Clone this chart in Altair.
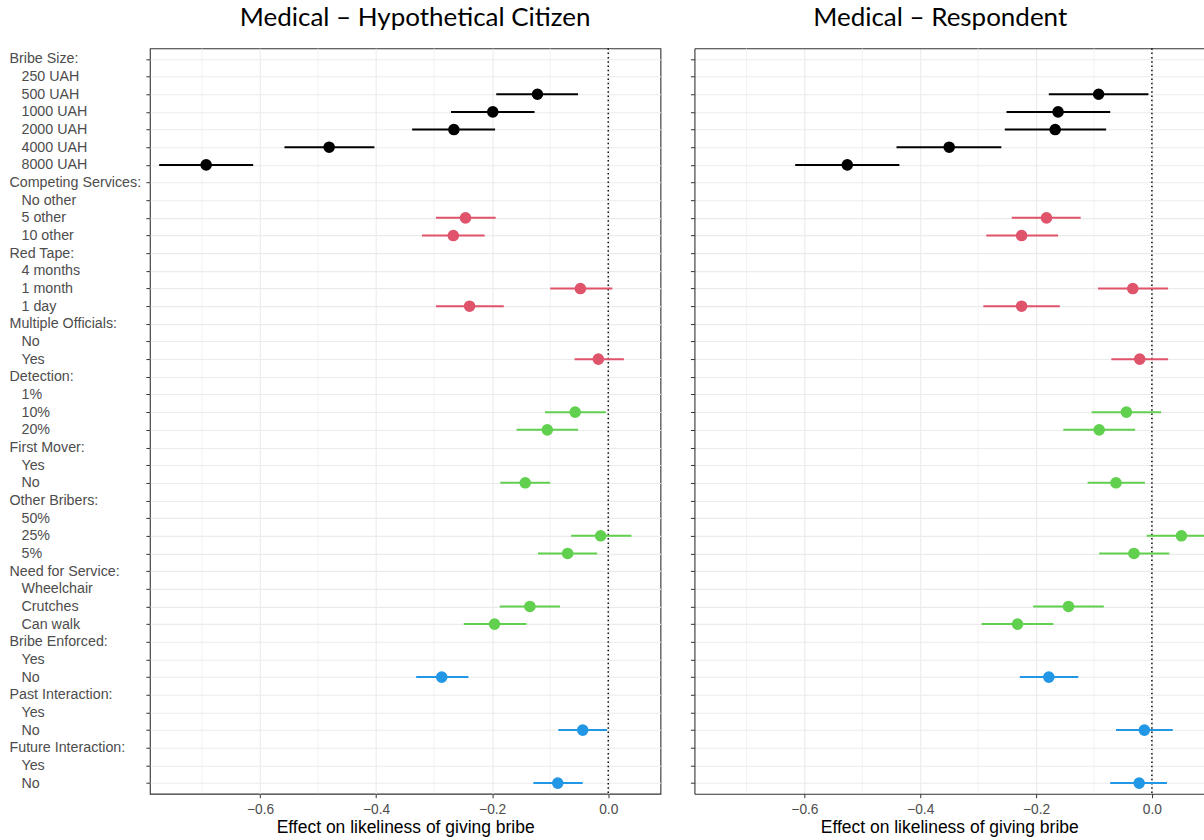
import json
import altair as alt
import pandas as pd

# ---------------- data ----------------
GROUPS = [
    "Bribe Size:", "Competing Services:", "Red Tape:", "Multiple Officials:",
    "Detection:", "First Mover:", "Other Bribers:", "Need for Service:",
    "Bribe Enforced:", "Past Interaction:", "Future Interaction:",
]
LEVELS = [
    ["250 UAH", "500 UAH", "1000 UAH", "2000 UAH", "4000 UAH", "8000 UAH"],
    ["No other", "5 other", "10 other"],
    ["4 months", "1 month", "1 day"],
    ["No", "Yes"],
    ["1%", "10%", "20%"],
    ["Yes", "No"],
    ["50%", "25%", "5%"],
    ["Wheelchair", "Crutches", "Can walk"],
    ["Yes", "No"],
    ["Yes", "No"],
    ["Yes", "No"],
]
GROUP_COLOR = ["size", "red", "red", "red", "green", "green", "green", "green",
               "blue", "blue", "blue"]
COLOR_DOMAIN = ["size", "red", "green", "blue"]
COLOR_RANGE = ["#000000", "#DF536B", "#61D04F", "#2297E6"]

# Hypothetical citizen (None = baseline level)
CIT_EST = [None, -0.122, -0.199, -0.266, -0.481, -0.693,
           None, -0.246, -0.267,
           None, -0.048, -0.239,
           None, -0.017,
           None, -0.057, -0.105,
           None, -0.143,
           None, -0.013, -0.070,
           None, -0.135, -0.196,
           None, -0.287,
           None, -0.044,
           None, -0.087]
CIT_LO = [None, -0.193, -0.271, -0.338, -0.558, -0.774,
          None, -0.297, -0.321,
          None, -0.100, -0.297,
          None, -0.058,
          None, -0.109, -0.158,
          None, -0.186,
          None, -0.064, -0.121,
          None, -0.187, -0.249,
          None, -0.331,
          None, -0.086,
          None, -0.129]
CIT_HI = [None, -0.052, -0.127, -0.195, -0.403, -0.612,
          None, -0.194, -0.213,
          None, 0.007, -0.180,
          None, 0.027,
          None, -0.004, -0.052,
          None, -0.100,
          None, 0.040, -0.019,
          None, -0.083, -0.141,
          None, -0.241,
          None, -0.002,
          None, -0.044]

# Respondent
RES_EST = [None, -0.092, -0.162, -0.167, -0.350, -0.526,
           None, -0.182, -0.225,
           None, -0.033, -0.225,
           None, -0.021,
           None, -0.044, -0.091,
           None, -0.062,
           None, 0.051, -0.031,
           None, -0.144, -0.232,
           None, -0.178,
           None, -0.013,
           None, -0.022]
RES_LO = [None, -0.178, -0.251, -0.254, -0.441, -0.616,
          None, -0.242, -0.286,
          None, -0.093, -0.291,
          None, -0.070,
          None, -0.104, -0.153,
          None, -0.111,
          None, -0.009, -0.091,
          None, -0.205, -0.294,
          None, -0.228,
          None, -0.062,
          None, -0.072]
RES_HI = [None, -0.006, -0.072, -0.079, -0.260, -0.436,
          None, -0.123, -0.162,
          None, 0.028, -0.159,
          None, 0.028,
          None, 0.016, -0.029,
          None, -0.012,
          None, 0.111, 0.030,
          None, -0.083, -0.170,
          None, -0.127,
          None, 0.036,
          None, 0.026]

X_DOMAIN = [-0.79, 0.09]
X_TICKS = [-0.6, -0.4, -0.2, 0.0]
X_MINOR = [-0.7, -0.5, -0.3, -0.1]

# ---------------- build tables ----------------
labels = []
header_rows = []
level_rows = []   # (row index, color category)
for g, lv, col in zip(GROUPS, LEVELS, GROUP_COLOR):
    header_rows.append(len(labels))
    labels.append(g)
    for name in lv:
        level_rows.append((len(labels), col))
        labels.append(name)
N_ROWS = len(labels)


def panel_df(est, lo, hi):
    recs = []
    for (r, col), e, l, h in zip(level_rows, est, lo, hi):
        if e is None:
            continue
        recs.append({"row": r, "cat": col, "est": e, "lo": l, "hi": h})
    return pd.DataFrame(recs)


label_expr = json.dumps(labels, ensure_ascii=False) + "[datum.value]"
header_test = "indexof(" + json.dumps(header_rows) + ", datum.value) >= 0"

H = 746
FONT = "Liberation Sans"
BORDER = "#333333"


def make_panel(df, title, is_left, title_dx, width):
    xscale = alt.Scale(domain=X_DOMAIN, nice=False, zero=False)
    yscale = alt.Scale(type="point", domain=list(range(N_ROWS)), padding=0.6)
    yaxis = alt.Axis(
        title=None, grid=True, gridColor="#EBEBEB", gridWidth=1.1,
        domain=not is_left, domainColor=BORDER, domainWidth=1.1,
        ticks=True, tickSize=4, tickColor=BORDER, tickWidth=1,
        labels=is_left, labelExpr=label_expr, labelAlign="left",
        labelBaseline="middle",
        labelPadding={"condition": {"test": header_test, "value": 137}, "value": 125},
        labelFont=FONT, labelFontSize=14.3, labelColor="#4D4D4D", labelLimit=300,
    )
    xaxis = alt.Axis(
        values=X_TICKS, format=".1f", grid=True, gridColor="#EBEBEB", gridWidth=1.1,
        domain=not is_left, domainColor=BORDER, domainWidth=1.1,
        tickSize=4, tickColor=BORDER, tickWidth=1,
        labelFont=FONT, labelFontSize=13.8, labelColor="#4D4D4D", labelPadding=5,
        title="Effect on likeliness of giving bribe", titleFont=FONT,
        titleFontSize=17.5, titleFontWeight="normal", titleColor="#000000",
        titlePadding=2,
    )
    top_axis = alt.Axis(
        orient="top", domain=True, domainColor=BORDER, domainWidth=1.1,
        ticks=False, labels=False, grid=False, title=None,
    )
    color = alt.Color("cat:N", scale=alt.Scale(domain=COLOR_DOMAIN, range=COLOR_RANGE),
                      legend=None)

    minor = alt.Chart(pd.DataFrame({"v": X_MINOR})).mark_rule(
        color="#EBEBEB", strokeWidth=0.6
    ).encode(x=alt.X("v:Q", scale=xscale, axis=None if is_left else top_axis))

    zero = alt.Chart(pd.DataFrame({"z": [0.0]})).mark_rule(
        color="#000000", strokeDash=[1.5, 2.8], strokeWidth=1.4
    ).encode(x=alt.X("z:Q", scale=xscale, axis=None))

    base = alt.Chart(df)
    bars = base.mark_rule(strokeWidth=2, clip=True).encode(
        x=alt.X("lo:Q", scale=xscale, axis=xaxis),
        x2="hi:Q",
        y=alt.Y("row:O", scale=yscale, axis=yaxis),
        color=color,
    )
    pts = base.mark_circle(size=135, opacity=1, clip=True).encode(
        x=alt.X("est:Q", scale=xscale, axis=None),
        y=alt.Y("row:O", scale=yscale, axis=yaxis),
        color=color,
    )
    layer = alt.layer(minor, zero, bars, pts).resolve_axis(x="independent").properties(
        width=width, height=H,
        title=alt.TitleParams(
            text=title, font="Lato", fontSize=26, fontWeight="normal",
            color="#000000", anchor="middle", dx=title_dx, offset=17,
        ),
    )
    if is_left:
        layer = layer.properties(view=alt.ViewBackground(stroke=BORDER, strokeWidth=1.1))
    else:
        layer = layer.properties(view=alt.ViewBackground(strokeOpacity=0))
    return layer


left = make_panel(panel_df(CIT_EST, CIT_LO, CIT_HI), "Medical – Hypothetical Citizen",
                  True, 10, 511)
right = make_panel(panel_df(RES_EST, RES_LO, RES_HI), "Medical – Respondent",
                   False, -9, 510)

chart = alt.hconcat(left, right, spacing=28).properties(
    padding={"left": 8, "top": 3, "right": 0, "bottom": 0},
    background="#FFFFFF",
)

chart.save("out.html", embed_options={"renderer": "svg", "actions": False})
